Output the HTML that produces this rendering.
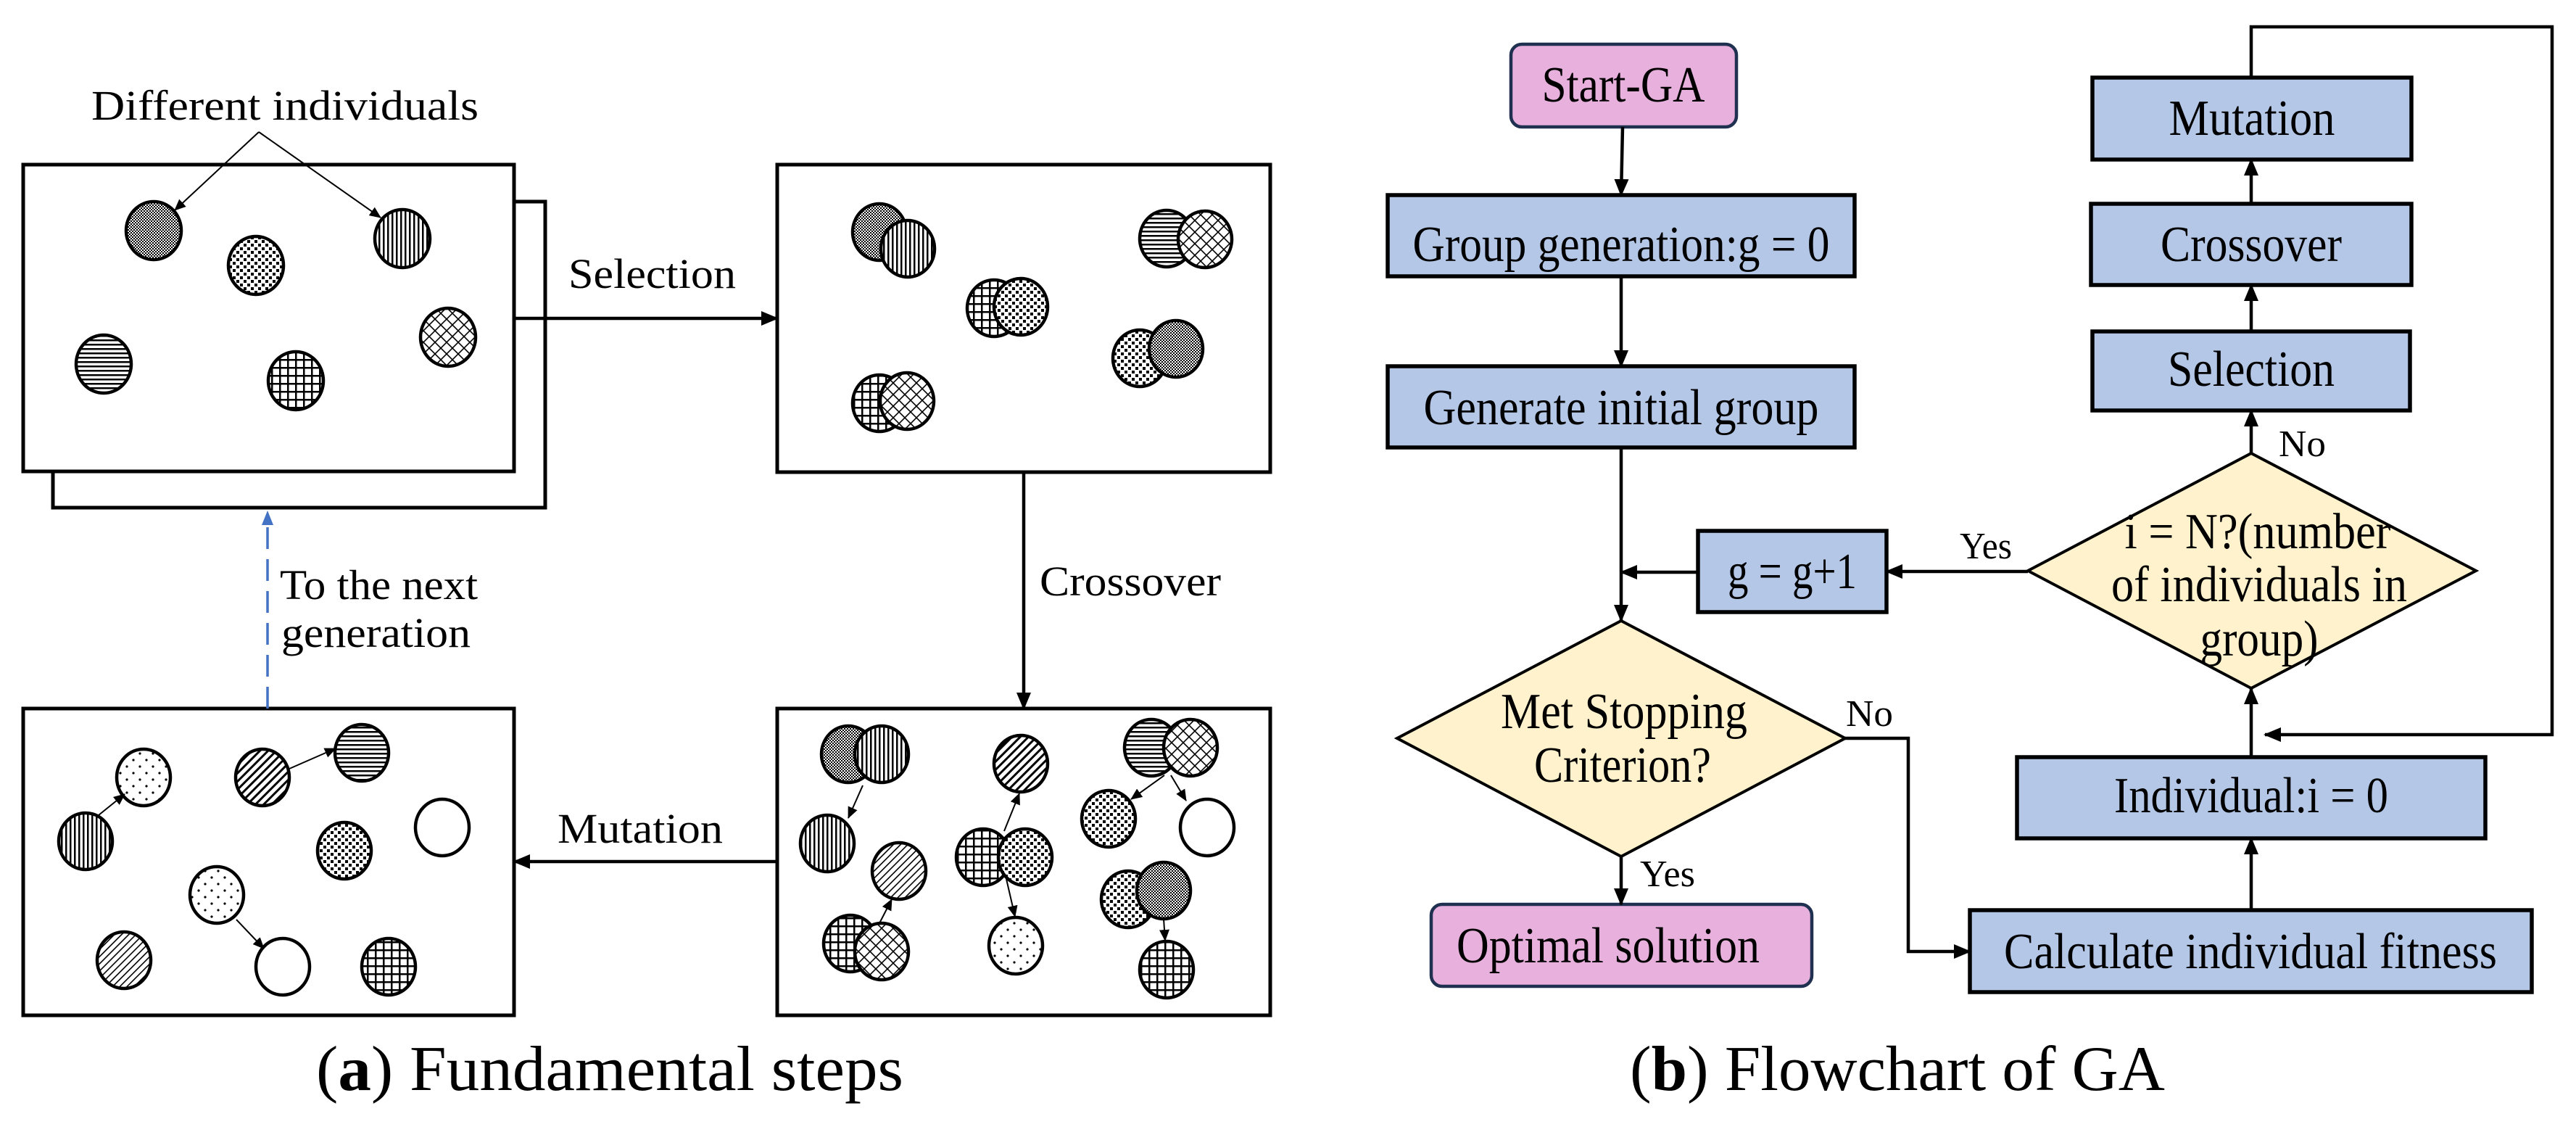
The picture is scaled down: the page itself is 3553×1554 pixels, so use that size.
<!DOCTYPE html>
<html><head><meta charset="utf-8"><style>
html,body{margin:0;padding:0;background:#fff;}
svg{display:block;font-family:"Liberation Serif","DejaVu Serif",serif;}
svg text{font-family:"Liberation Serif","DejaVu Serif",serif;fill:#000;}
</style></head><body>
<svg width="3553" height="1554" viewBox="0 0 3553 1554" xmlns="http://www.w3.org/2000/svg" font-family="'Liberation Serif', 'DejaVu Serif', serif">
<defs>
<marker id="ah" markerUnits="userSpaceOnUse" markerWidth="24" markerHeight="20" refX="22" refY="10" orient="auto"><path d="M0,0 L24,10 L0,20 Z" fill="#000"/></marker>
<marker id="as" markerUnits="userSpaceOnUse" markerWidth="16" markerHeight="14" refX="15" refY="7" orient="auto"><path d="M0,0 L16,7 L0,14 Z" fill="#000"/></marker>
<pattern id="spk" width="4" height="4" patternUnits="userSpaceOnUse"><rect width="4" height="4" fill="#fff"/><rect width="2" height="2" fill="#000"/><rect x="2" y="2" width="2" height="2" fill="#000"/></pattern>
<pattern id="dots" width="10" height="10" patternUnits="userSpaceOnUse"><rect width="10" height="10" fill="#fff"/><rect x="1" y="1" width="4" height="4" fill="#000"/><rect x="6" y="6" width="4" height="4" fill="#000"/></pattern>
<pattern id="vl" width="6" height="6" patternUnits="userSpaceOnUse"><rect width="6" height="6" fill="#fff"/><rect x="0" width="2.5" height="6" fill="#000"/></pattern>
<pattern id="hl" width="6" height="6" patternUnits="userSpaceOnUse"><rect width="6" height="6" fill="#fff"/><rect y="0" width="6" height="2.5" fill="#000"/></pattern>
<pattern id="grid" width="11" height="11" patternUnits="userSpaceOnUse"><rect width="11" height="11" fill="#fff"/><rect width="2.5" height="11" fill="#000"/><rect width="11" height="2.5" fill="#000"/></pattern>
<pattern id="cross" width="16" height="16" patternUnits="userSpaceOnUse"><rect width="16" height="16" fill="#fff"/><path d="M0,0 L16,16 M16,0 L0,16" stroke="#000" stroke-width="1.6"/></pattern>
<pattern id="dd" width="8" height="8" patternUnits="userSpaceOnUse" patternTransform="rotate(45)"><rect width="8" height="8" fill="#fff"/><rect width="3" height="8" fill="#000"/></pattern>
<pattern id="dl" width="7" height="7" patternUnits="userSpaceOnUse" patternTransform="rotate(45)"><rect width="7" height="7" fill="#fff"/><rect width="1.6" height="7" fill="#000"/></pattern>
<pattern id="ld" width="18" height="18" patternUnits="userSpaceOnUse"><rect width="18" height="18" fill="#fff"/><circle cx="4" cy="4" r="1.6" fill="#000"/><circle cx="13" cy="13" r="1.6" fill="#000"/></pattern>
</defs>

<g stroke="#000" stroke-width="4.5">
<rect x="73" y="278" width="679" height="422" fill="#fff" stroke-width="5"/>
<rect x="32" y="227" width="677" height="423" fill="#fff" stroke-width="5"/>
<rect x="1072" y="227" width="680" height="424" fill="#fff" stroke-width="5"/>
<rect x="32" y="977" width="677" height="423" fill="#fff" stroke-width="5"/>
<rect x="1072" y="977" width="680" height="423" fill="#fff" stroke-width="5"/>

<ellipse cx="212" cy="318" rx="38" ry="40" fill="url(#spk)"/>
<ellipse cx="353" cy="366" rx="38" ry="40" fill="url(#dots)"/>
<ellipse cx="555" cy="329" rx="38" ry="40" fill="url(#vl)"/>
<ellipse cx="143" cy="502" rx="38" ry="40" fill="url(#hl)"/>
<ellipse cx="408" cy="525" rx="38" ry="40" fill="url(#grid)"/>
<ellipse cx="618" cy="465" rx="38" ry="40" fill="url(#cross)"/>

<ellipse cx="1213" cy="320" rx="37" ry="39" fill="url(#spk)"/>
<ellipse cx="1252" cy="343" rx="37" ry="39" fill="url(#vl)"/>
<ellipse cx="1609" cy="329" rx="37" ry="39" fill="url(#hl)"/>
<ellipse cx="1662" cy="330" rx="37" ry="39" fill="url(#cross)"/>
<ellipse cx="1371" cy="425" rx="37" ry="39" fill="url(#grid)"/>
<ellipse cx="1408" cy="423" rx="37" ry="39" fill="url(#dots)"/>
<ellipse cx="1572" cy="494" rx="37" ry="39" fill="url(#dots)"/>
<ellipse cx="1622" cy="481" rx="37" ry="39" fill="url(#spk)"/>
<ellipse cx="1213" cy="556" rx="37" ry="39" fill="url(#grid)"/>
<ellipse cx="1251" cy="553" rx="37" ry="39" fill="url(#cross)"/>

<ellipse cx="198" cy="1072" rx="37" ry="39" fill="url(#ld)"/>
<ellipse cx="118" cy="1160" rx="37" ry="39" fill="url(#vl)"/>
<ellipse cx="362" cy="1072" rx="37" ry="39" fill="url(#dd)"/>
<ellipse cx="499" cy="1038" rx="37" ry="39" fill="url(#hl)"/>
<ellipse cx="610" cy="1141" rx="37" ry="39" fill="#fff"/>
<ellipse cx="475" cy="1173" rx="37" ry="39" fill="url(#dots)"/>
<ellipse cx="299" cy="1234" rx="37" ry="39" fill="url(#ld)"/>
<ellipse cx="390" cy="1333" rx="37" ry="39" fill="#fff"/>
<ellipse cx="171" cy="1324" rx="37" ry="39" fill="url(#dl)"/>
<ellipse cx="536" cy="1333" rx="37" ry="39" fill="url(#grid)"/>

<ellipse cx="1170" cy="1040" rx="37" ry="39" fill="url(#spk)"/>
<ellipse cx="1216" cy="1040" rx="37" ry="39" fill="url(#vl)"/>
<ellipse cx="1141" cy="1163" rx="37" ry="39" fill="url(#vl)"/>
<ellipse cx="1240" cy="1201" rx="37" ry="39" fill="url(#dl)"/>
<ellipse cx="1173" cy="1301" rx="37" ry="39" fill="url(#grid)"/>
<ellipse cx="1216" cy="1312" rx="37" ry="39" fill="url(#cross)"/>
<ellipse cx="1408" cy="1053" rx="37" ry="39" fill="url(#dd)"/>
<ellipse cx="1356" cy="1182" rx="37" ry="39" fill="url(#grid)"/>
<ellipse cx="1414" cy="1182" rx="37" ry="39" fill="url(#dots)"/>
<ellipse cx="1401" cy="1304" rx="37" ry="39" fill="url(#ld)"/>
<ellipse cx="1588" cy="1031" rx="37" ry="39" fill="url(#hl)"/>
<ellipse cx="1642" cy="1031" rx="37" ry="39" fill="url(#cross)"/>
<ellipse cx="1529" cy="1129" rx="37" ry="39" fill="url(#dots)"/>
<ellipse cx="1665" cy="1141" rx="37" ry="39" fill="#fff"/>
<ellipse cx="1556" cy="1240" rx="37" ry="39" fill="url(#dots)"/>
<ellipse cx="1605" cy="1228" rx="37" ry="39" fill="url(#spk)"/>
<ellipse cx="1609" cy="1337" rx="37" ry="39" fill="url(#grid)"/>
</g>

<g stroke="#000" stroke-width="2" fill="none" marker-end="url(#as)">
<line x1="357" y1="182" x2="241" y2="290"/>
<line x1="357" y1="182" x2="525" y2="300"/>
<line x1="136" y1="1124" x2="172" y2="1095"/>
<line x1="399" y1="1060" x2="463" y2="1032"/>
<line x1="326" y1="1268" x2="364" y2="1308"/>
<line x1="1190" y1="1083" x2="1170" y2="1128"/>
<line x1="1213" y1="1273" x2="1230" y2="1240"/>
<line x1="1385" y1="1146" x2="1406" y2="1094"/>
<line x1="1388" y1="1212" x2="1400" y2="1264"/>
<line x1="1606" y1="1069" x2="1560" y2="1102"/>
<line x1="1615" y1="1069" x2="1636" y2="1104"/>
<line x1="1605" y1="1267" x2="1607" y2="1297"/>
</g>

<g stroke="#000" stroke-width="4.5" fill="none" marker-end="url(#ah)">
<line x1="709" y1="439" x2="1072" y2="439"/>
<line x1="1412" y1="651" x2="1412" y2="977"/>
<line x1="1072" y1="1188" x2="709" y2="1188"/>
</g>
<line x1="369" y1="977" x2="369" y2="722" stroke="#4472c4" stroke-width="3.5" stroke-dasharray="30,14"/>
<path d="M369,704 L361,724 L377,724 Z" fill="#4472c4"/>

<g font-size="58" lengthAdjust="spacingAndGlyphs">
<text x="126" y="165" textLength="534" lengthAdjust="spacingAndGlyphs">Different  individuals</text>
<text x="784" y="397" textLength="231" lengthAdjust="spacingAndGlyphs">Selection</text>
<text x="1434" y="821" textLength="250" lengthAdjust="spacingAndGlyphs">Crossover</text>
<text x="769" y="1162" textLength="228" lengthAdjust="spacingAndGlyphs">Mutation</text>
<text x="386" y="826" textLength="273" lengthAdjust="spacingAndGlyphs">To the next</text>
<text x="388" y="892" textLength="261" lengthAdjust="spacingAndGlyphs">generation</text>
</g>
<text x="436" y="1503" font-size="88" textLength="810" lengthAdjust="spacingAndGlyphs">(<tspan font-weight="bold">a</tspan>) Fundamental steps</text>

<g stroke="#000" stroke-width="5.5" fill="#b4c7e7">
<rect x="1914" y="269" width="644" height="112"/>
<rect x="1914" y="505" width="644" height="112"/>
<rect x="2342" y="732" width="260" height="112"/>
<rect x="2886" y="107" width="440" height="113"/>
<rect x="2884" y="281" width="442" height="112"/>
<rect x="2886" y="457" width="438" height="109"/>
<rect x="2782" y="1044" width="646" height="112"/>
<rect x="2717" y="1255" width="775" height="113"/>
</g>
<g stroke="#1f3050" stroke-width="4.5" fill="#e8b0dc">
<rect x="2084" y="61" width="311" height="114" rx="15"/>
<rect x="1974" y="1247" width="525" height="113" rx="15"/>
</g>
<g stroke="#000" stroke-width="4" fill="#fff2cc">
<polygon points="2236,856 2545,1018 2236,1181 1927,1018"/>
<polygon points="3105,625 3415,787 3105,949 2797,787"/>
</g>

<g stroke="#000" stroke-width="4.5" fill="none" marker-end="url(#ah)">
<line x1="2238" y1="175" x2="2236" y2="269"/>
<line x1="2236" y1="381" x2="2236" y2="505"/>
<line x1="2236" y1="617" x2="2236" y2="856"/>
<line x1="2342" y1="789" x2="2236" y2="789"/>
<line x1="2797" y1="788" x2="2602" y2="788"/>
<line x1="2236" y1="1181" x2="2236" y2="1247"/>
<polyline points="2545,1018 2632,1018 2632,1312 2717,1312"/>
<line x1="3105" y1="1255" x2="3105" y2="1156"/>
<line x1="3105" y1="1044" x2="3105" y2="949"/>
<line x1="3105" y1="625" x2="3105" y2="566"/>
<line x1="3105" y1="457" x2="3105" y2="393"/>
<line x1="3105" y1="281" x2="3105" y2="220"/>
<polyline points="3105,107 3105,37 3520,37 3520,1013 3124,1013"/>
</g>

<g font-size="70" text-anchor="middle">
<text x="2239" y="140" textLength="225" lengthAdjust="spacingAndGlyphs">Start-GA</text>
<text x="2236" y="360" textLength="575" lengthAdjust="spacingAndGlyphs">Group generation:g = 0</text>
<text x="2236" y="585" textLength="545" lengthAdjust="spacingAndGlyphs">Generate initial group</text>
<text x="2472" y="811" textLength="178" lengthAdjust="spacingAndGlyphs">g = g+1</text>
<text x="3106" y="186" textLength="229" lengthAdjust="spacingAndGlyphs">Mutation</text>
<text x="3105" y="360" textLength="250" lengthAdjust="spacingAndGlyphs">Crossover</text>
<text x="3105" y="532" textLength="230" lengthAdjust="spacingAndGlyphs">Selection</text>
<text x="3105" y="1120" textLength="378" lengthAdjust="spacingAndGlyphs">Individual:i = 0</text>
<text x="3104" y="1335" textLength="680" lengthAdjust="spacingAndGlyphs">Calculate individual fitness</text>
<text x="2240" y="1004" textLength="340" lengthAdjust="spacingAndGlyphs">Met Stopping</text>
<text x="2238" y="1078" textLength="244" lengthAdjust="spacingAndGlyphs">Criterion?</text>
<text x="3114" y="756" fill="#333" textLength="367" lengthAdjust="spacingAndGlyphs">i = N?(number</text>
<text x="3116" y="829" fill="#333" textLength="408" lengthAdjust="spacingAndGlyphs">of individuals in</text>
<text x="3116" y="904" fill="#333" textLength="163" lengthAdjust="spacingAndGlyphs">group)</text>
</g>
<text x="2009" y="1327" font-size="70" textLength="418" lengthAdjust="spacingAndGlyphs">Optimal solution</text>
<g font-size="52">
<text x="2546" y="1001" textLength="65" lengthAdjust="spacingAndGlyphs">No</text>
<text x="2262" y="1222" textLength="76" lengthAdjust="spacingAndGlyphs">Yes</text>
<text x="2703" y="770" textLength="72" lengthAdjust="spacingAndGlyphs">Yes</text>
<text x="3143" y="629" textLength="65" lengthAdjust="spacingAndGlyphs">No</text>
</g>
<text x="2248" y="1503" font-size="88" textLength="738" lengthAdjust="spacingAndGlyphs">(<tspan font-weight="bold">b</tspan>) Flowchart of GA</text>
</svg>
</body></html>
